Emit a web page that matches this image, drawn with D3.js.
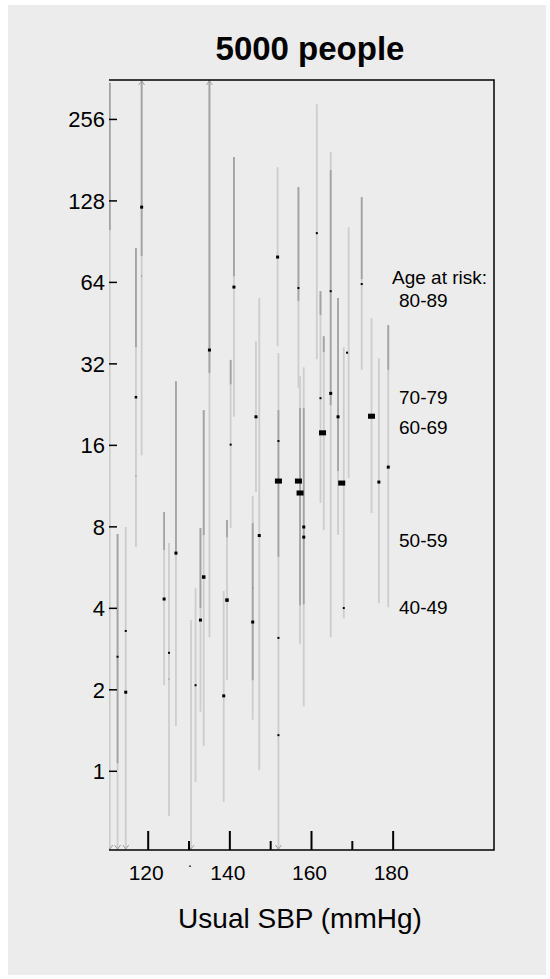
<!DOCTYPE html>
<html>
<head>
<meta charset="utf-8">
<script src="https://cdn.jsdelivr.net/npm/d3@7"></script>
<style>
  body { margin: 0; background: #fff; }
  text { font-family: "Liberation Sans", Arial, sans-serif; fill: #000; }
</style>
</head>
<body>
<div id="chart"></div>
<script>
// usual SBP (mmHg), lower and upper limits of each interval (relative risk)
var lightBars = [
    [110.6, 0.45, 350], [112.5, 0.45, 7.53], [114.5, 0.45, 7.99], [117.0, 6.74, 85.7],
    [118.4, 14.7, 400], [123.9, 2.08, 9.07], [125.1, 0.684, 6.97], [126.8, 1.47, 27.6],
    [130.5, 0.45, 3.62], [131.6, 0.913, 4.75], [132.8, 1.66, 7.92], [133.6, 1.24, 21.6],
    [135.0, 3.13, 400], [138.5, 0.77, 4.64], [139.3, 2.17, 8.48], [140.2, 7.92, 33.1],
    [141.0, 20.4, 185.8], [145.6, 1.55, 10.4], [146.4, 10.76, 38.8], [147.2, 1.01, 56.0],
    [151.7, 37.2, 170.6], [151.9, 0.45, 35.1], [156.8, 26.0, 144], [157.2, 2.95, 28.8],
    [158.1, 1.74, 31.1], [161.3, 33.3, 291.6], [162.2, 9.8, 59.4], [163.0, 7.79, 40.5],
    [164.7, 3.13, 193.9], [166.5, 7.46, 56.0], [167.9, 3.68, 36.9], [169.1, 12.1, 102.4],
    [172.3, 30.4, 132.2], [174.7, 9.0, 47.2], [176.5, 4.18, 33.6], [178.8, 4.04, 44.5]
];

var darkBars = [
    [110.6, 100, 350], [112.5, 1.07, 7.53], [117.0, 36.9, 85.7], [118.4, 80.0, 400],
    [123.9, 6.57, 9.07], [126.8, 6.29, 27.6], [132.8, 4.01, 7.92], [133.6, 7.46, 21.6],
    [135.0, 29.6, 400], [139.3, 7.33, 8.48], [140.2, 26.9, 33.1], [141.0, 67.5, 185.8],
    [145.6, 2.17, 8.26], [151.9, 6.2, 21.6], [156.8, 54.6, 144], [157.2, 4.11, 22.0],
    [158.1, 4.14, 22.0], [162.2, 48.5, 59.4], [163.0, 35.4, 40.5], [164.7, 22.5, 166.3],
    [166.5, 12.86, 56.0], [172.3, 65.8, 132.2], [178.8, 30.4, 44.5]
];

// usual SBP, relative risk, marker size
var estimates = [
    [118.4, 121.4, 3], [118.4, 67.5, 1], [117.0, 24.1, 2.5], [117.0, 12.3, 1],
    [112.5, 2.65, 2], [114.5, 1.96, 3], [114.5, 3.30, 2], [123.9, 4.33, 3],
    [125.1, 2.74, 2], [125.1, 2.19, 1], [126.8, 6.40, 3], [131.6, 2.08, 2],
    [132.8, 3.62, 3], [133.6, 5.22, 3.5], [135.0, 36.0, 3], [138.5, 1.90, 3],
    [139.3, 4.29, 3.5], [140.2, 16.1, 2], [141.0, 61.5, 3], [145.6, 4.75, 1],
    [145.6, 3.56, 3], [146.4, 20.4, 3], [147.2, 7.43, 3], [151.7, 79.4, 3],
    [151.9, 16.6, 2], [151.9, 11.81, 7], [151.9, 3.11, 2], [151.9, 1.36, 2],
    [156.8, 61.0, 2], [156.8, 11.81, 7], [157.2, 10.67, 7], [158.1, 7.99, 3],
    [158.1, 7.33, 3], [161.3, 97.3, 2], [162.2, 23.9, 2], [162.7, 17.8, 7],
    [164.7, 59.4, 2], [164.7, 24.9, 3], [166.5, 20.4, 3], [167.4, 11.61, 7],
    [167.9, 4.01, 2], [168.7, 35.2, 2], [172.3, 63.1, 2], [174.7, 20.5, 7],
    [176.5, 11.71, 3], [178.8, 13.3, 3]
];

var yTicks = [1, 2, 4, 8, 16, 32, 64, 128, 256];
var xMajor = [120, 140, 160, 180];
var xMinor = [130, 150, 170];

var ageGroups = ["80-89", "70-79", "60-69", "50-59", "40-49"];
var ageLabelAt = [55.1, 24.1, 18.7, 7.15, 4.04];

var width = 550;
var height = 979;
var plotL = 109, plotR = 494, plotT = 80, plotB = 850;

var svg = d3.select("#chart")
    .append("svg")
        .attr("width", width)
        .attr("height", height);

svg.append("rect")
    .attr("x", 8).attr("y", 5)
    .attr("width", 538).attr("height", 970)
    .attr("fill", "#ececec");

var xScale = d3.scaleLinear()
    .domain([110.4, 204.7])
    .range([plotL, plotR]);

var yScale = d3.scaleLog()
    .base(2)
    .domain([0.512, 358])
    .range([plotB, plotT]);

var yMin = yScale.domain()[0], yMax = yScale.domain()[1];

svg.append("clipPath")
        .attr("id", "plotclip")
    .append("rect")
        .attr("x", plotL)
        .attr("y", plotT)
        .attr("width", plotR - plotL)
        .attr("height", plotB - plotT);

var plot = svg.append("g").attr("clip-path", "url(#plotclip)");

function yClamp(v) {
    return yScale(Math.max(yMin, Math.min(yMax, v)));
}

plot.selectAll("line.light")
    .data(lightBars)
    .enter().append("line")
        .attr("class", "light")
        .attr("x1", function (d) { return xScale(d[0]); })
        .attr("x2", function (d) { return xScale(d[0]); })
        .attr("y1", function (d) { return yClamp(d[1]); })
        .attr("y2", function (d) { return yClamp(d[2]); })
        .attr("stroke", "#cdcdcd")
        .attr("stroke-width", 1.8);

plot.selectAll("line.dark")
    .data(darkBars)
    .enter().append("line")
        .attr("class", "dark")
        .attr("x1", function (d) { return xScale(d[0]); })
        .attr("x2", function (d) { return xScale(d[0]); })
        .attr("y1", function (d) { return yClamp(d[1]); })
        .attr("y2", function (d) { return yClamp(d[2]); })
        .attr("stroke", "#a3a3a3")
        .attr("stroke-width", 1.8);

// arrow heads where an interval runs off the plot
var arrows = [];
lightBars.forEach(function (d) {
    if (d[2] > yMax) arrows.push({ x: xScale(d[0]), y: plotT + 1, dir: -1 });
    if (d[1] < yMin) arrows.push({ x: xScale(d[0]), y: plotB - 1, dir: 1 });
});

plot.selectAll("path.arrow")
    .data(arrows)
    .enter().append("path")
        .attr("class", "arrow")
        .attr("d", function (d) {
            return "M" + (d.x - 3) + "," + (d.y - 4 * d.dir) + "L" + d.x + "," + d.y + "L" + (d.x + 3) + "," + (d.y - 4 * d.dir);
        })
        .attr("fill", "none")
        .attr("stroke", "#a0a0a0")
        .attr("stroke-width", 1);

plot.selectAll("rect.est")
    .data(estimates)
    .enter().append("rect")
        .attr("class", "est")
        .attr("x", function (d) { return xScale(d[0]) - d[2] / 2; })
        .attr("y", function (d) { var h = d[2] > 4 ? d[2] * 0.72 : d[2]; return yScale(d[1]) - h / 2; })
        .attr("width", function (d) { return d[2]; })
        .attr("height", function (d) { return d[2] > 4 ? d[2] * 0.72 : d[2]; })
        .attr("fill", function (d) { return d[2] < 1.5 ? "#777" : "#000"; });

// frame: top, right, bottom
svg.append("path")
    .attr("d", "M" + plotL + "," + plotT + "H" + plotR + "V" + plotB + "H" + plotL)
    .attr("fill", "none")
    .attr("stroke", "#000")
    .attr("stroke-width", 1.5);

// y axis ticks point inward
svg.selectAll("line.ytick")
    .data(yTicks)
    .enter().append("line")
        .attr("class", "ytick")
        .attr("x1", plotL)
        .attr("x2", plotL + 8)
        .attr("y1", function (d) { return yScale(d); })
        .attr("y2", function (d) { return yScale(d); })
        .attr("stroke", "#000")
        .attr("stroke-width", 1.5);

svg.selectAll("text.ylab")
    .data(yTicks)
    .enter().append("text")
        .attr("class", "ylab")
        .attr("x", plotL - 4)
        .attr("y", function (d) { return yScale(d) + 8; })
        .attr("text-anchor", "end")
        .style("font-size", "22px")
        .text(function (d) { return d; });

svg.selectAll("line.xmajor")
    .data(xMajor)
    .enter().append("line")
        .attr("class", "xmajor")
        .attr("x1", function (d) { return xScale(d); })
        .attr("x2", function (d) { return xScale(d); })
        .attr("y1", plotB)
        .attr("y2", plotB - 19)
        .attr("stroke", "#000")
        .attr("stroke-width", 2);

svg.selectAll("line.xminor")
    .data(xMinor)
    .enter().append("line")
        .attr("class", "xminor")
        .attr("x1", function (d) { return xScale(d); })
        .attr("x2", function (d) { return xScale(d); })
        .attr("y1", plotB)
        .attr("y2", plotB - 9)
        .attr("stroke", "#000")
        .attr("stroke-width", 2);

svg.selectAll("text.xlab")
    .data(xMajor)
    .enter().append("text")
        .attr("class", "xlab")
        .attr("x", function (d) { return xScale(d) - 2; })
        .attr("y", 880)
        .attr("text-anchor", "middle")
        .style("font-size", "21px")
        .text(function (d) { return d; });

svg.append("text")
    .attr("x", xScale(xMinor[0]) + 1)
    .attr("y", 867)
    .attr("text-anchor", "middle")
    .style("font-size", "14px")
    .text(".");

svg.append("text")
    .attr("x", 300)
    .attr("y", 928)
    .attr("text-anchor", "middle")
    .style("font-size", "28px")
    .text("Usual SBP (mmHg)");

svg.append("text")
    .attr("x", 310)
    .attr("y", 60)
    .attr("text-anchor", "middle")
    .style("font-size", "33px")
    .style("font-weight", "bold")
    .text("5000 people");

svg.append("text")
    .attr("x", 392)
    .attr("y", yScale(66.8) + 7)
    .style("font-size", "19px")
    .text("Age at risk:");

svg.selectAll("text.age")
    .data(ageGroups)
    .enter().append("text")
        .attr("class", "age")
        .attr("x", 399)
        .attr("y", function (d, i) { return yScale(ageLabelAt[i]) + 7; })
        .style("font-size", "19px")
        .text(function (d) { return d; });
</script>
</body>
</html>
